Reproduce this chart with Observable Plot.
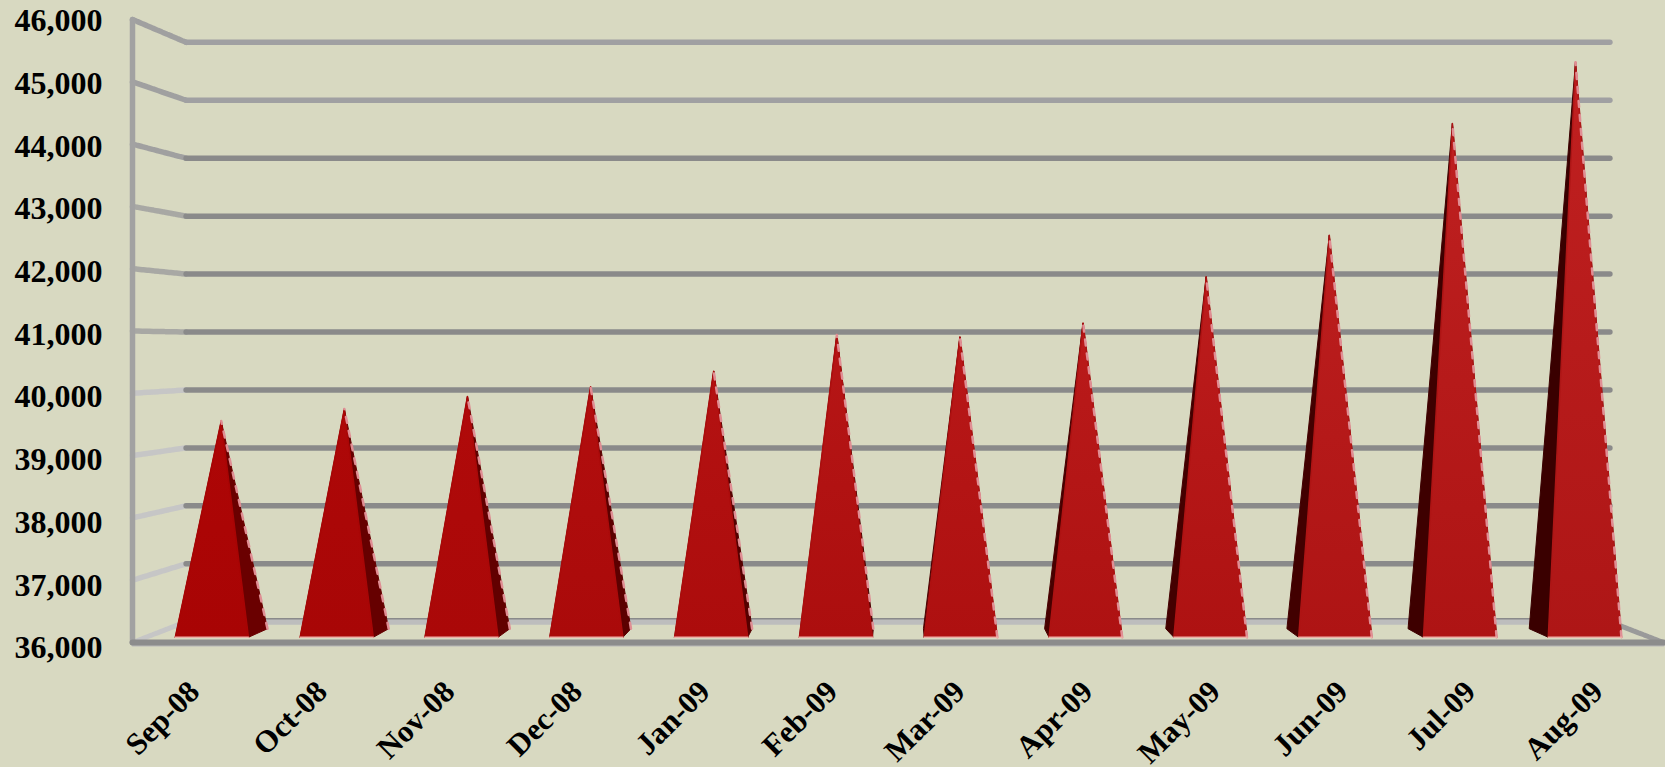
<!DOCTYPE html>
<html><head><meta charset="utf-8">
<style>html,body{margin:0;padding:0;background:#d8d9c1;overflow:hidden}svg{display:block}</style>
<script src="https://cdn.jsdelivr.net/npm/d3@7"></script>
<script src="https://cdn.jsdelivr.net/npm/@observablehq/plot@0.6"></script>
</head><body><div id="chart"></div>
<script>
const months = ["Sep-08","Oct-08","Nov-08","Dec-08","Jan-09","Feb-09","Mar-09","Apr-09","May-09","Jun-09","Jul-09","Aug-09"];
const values = [39510,39710,39920,40080,40340,40940,40910,41140,41910,42600,44460,45480];
const yTicks = [36000,37000,38000,39000,40000,41000,42000,43000,44000,45000,46000];
const faceTop = ["#ae0606","#ae0808","#b00a0a","#b20e0e","#b41212","#b61616","#b81818","#ba1a1a","#bc1c1c","#bc1e1e","#be2020","#c02020"];
const faceBottom = ["#a80404","#a80606","#aa0808","#aa0a0a","#ac0c0c","#ac0e0e","#ae1010","#ae1212","#ae1212","#ae1414","#ae1414","#ae1616"];
const sideColor = ["#6a0000","#660000","#620000","#5c0000","#560000","#500000","#4c0000","#480000","#440000","#420000","#3e0000","#3a0000"];

const floorValue = 35980, halfWidth = 0.293, frontDepth = 0.31, backDepth = 0.72;
const vanishX = 6, vanishY = 40767, shrink = 0.07;
const sc = d => 1 - shrink * d;
const px = (u, d) => vanishX + sc(d) * (u - vanishX);
const py = (v, d) => vanishY + sc(d) * (v - vanishY);
const P = (u, v, d) => ({x: px(u, d), y: py(v, d)});
const line = (pts, o) => Plot.line(pts, {x: "x", y: "y", curve: "linear", ...o});

const marks = [];
yTicks.forEach((v, k) => {
  if (k > 0) marks.push(line([P(0, v, 0), P(0, v, 1)], {stroke: k >= 8 ? "#a0a0a0" : k >= 5 ? "#a8a8a4" : "#c6c6c6", strokeWidth: 5.5, strokeDasharray: "4 1.5"}));
  marks.push(line([P(0, v, 1), P(12, v, 1)], {stroke: k === 0 ? "#bdbdbd" : k >= 9 ? "#a0a0a2" : "#8a8a8a", strokeWidth: k === 0 ? 6 : 5.5}));
});
marks.push(line([P(0, 36000, 1), P(12, 36000, 1)], {stroke: "#8a8a8a", strokeWidth: 1.5, dy: -3}));
marks.push(line([P(0, 36000, 0), P(0, 36000, 1)], {stroke: "#c6c6c6", strokeWidth: 5, strokeDasharray: "4 1.5"}));
marks.push(line([P(12, 36000, 0), P(12, 36000, 1)], {stroke: "#9a9a9a", strokeWidth: 5, strokeDasharray: "4 1.5"}));
marks.push(line([P(0, 36000, 0), P(0, 46000, 0)], {stroke: "#a2a2a2", strokeWidth: 5.5}));
marks.push(line([P(0, 36000, 0), P(12, 36000, 0)], {stroke: "#b8b8b8", strokeWidth: 2, dy: 3}));
marks.push(line([P(0, 36000, 0), P(12, 36000, 0)], {stroke: "#8c8c8c", strokeWidth: 6}));

months.forEach((m, i) => {
  const c = i + 0.503;
  const FL = P(c - halfWidth, floorValue, frontDepth), FR = P(c + halfWidth, floorValue, frontDepth);
  const BL = P(c - halfWidth, floorValue, backDepth), BR = P(c + halfWidth, floorValue, backDepth);
  const A = P(c, values[i], 0.5);
  marks.push(line([FL, BL, A, FL], {fill: sideColor[i], stroke: sideColor[i], strokeWidth: 1}));
  marks.push(line([FR, BR, A, FR], {fill: sideColor[i], stroke: sideColor[i], strokeWidth: 1}));
  marks.push(line([FL, FR, A, FL], {fill: `url(#face${i})`, stroke: faceBottom[i], strokeWidth: 1.5}));
  const outer = BR.x > FR.x ? BR : FR;
  marks.push(line([outer, A], {stroke: "#e08e94", strokeWidth: 2.5, strokeDasharray: "6 8"}));
  marks.push(line([FL, FR], {stroke: "#eeb0a8", strokeWidth: 1.5}));
});

// the value labels in the reference are spaced a little wider than the wall ticks
const labelSpread = 1.0064;
marks.push(Plot.text(yTicks, {x: 0, y: d => 46000 - (46000 - d) * labelSpread, text: d3.format(","), textAnchor: "end", dx: -30, dy: 1.5, fontSize: 32, fontWeight: "bold", fontFamily: "Liberation Serif", fill: "#000"}));
marks.push(Plot.text(months, {x: (d, i) => i + 0.5, y: 36000, text: d => d, rotate: -45, textAnchor: "end", lineAnchor: "middle", dy: 44, dx: -2, fontSize: 31, fontWeight: "bold", fontFamily: "Liberation Serif", fill: "#000"}));

const chart = Plot.plot({
  width: 1665, height: 767, marginLeft: 132, marginRight: 2, marginTop: 19, marginBottom: 125,
  style: {background: "#d8d9c1", overflow: "visible"},
  x: {domain: [0, 12], range: [132, 1663], axis: null},
  y: {domain: [36000, 46000], range: [642, 19], axis: null},
  marks
});
const ns = "http://www.w3.org/2000/svg";
const defs = document.createElementNS(ns, "defs");
months.forEach((m, i) => {
  const g = document.createElementNS(ns, "linearGradient");
  g.setAttribute("id", `face${i}`); g.setAttribute("x1", 0); g.setAttribute("y1", 0); g.setAttribute("x2", 0); g.setAttribute("y2", 1);
  [[0, faceTop[i]], [1, faceBottom[i]]].forEach(([o, col]) => {
    const s = document.createElementNS(ns, "stop"); s.setAttribute("offset", o); s.setAttribute("stop-color", col); g.appendChild(s);
  });
  defs.appendChild(g);
});
chart.insertBefore(defs, chart.firstChild);
document.getElementById("chart").appendChild(chart);
</script></body></html>
